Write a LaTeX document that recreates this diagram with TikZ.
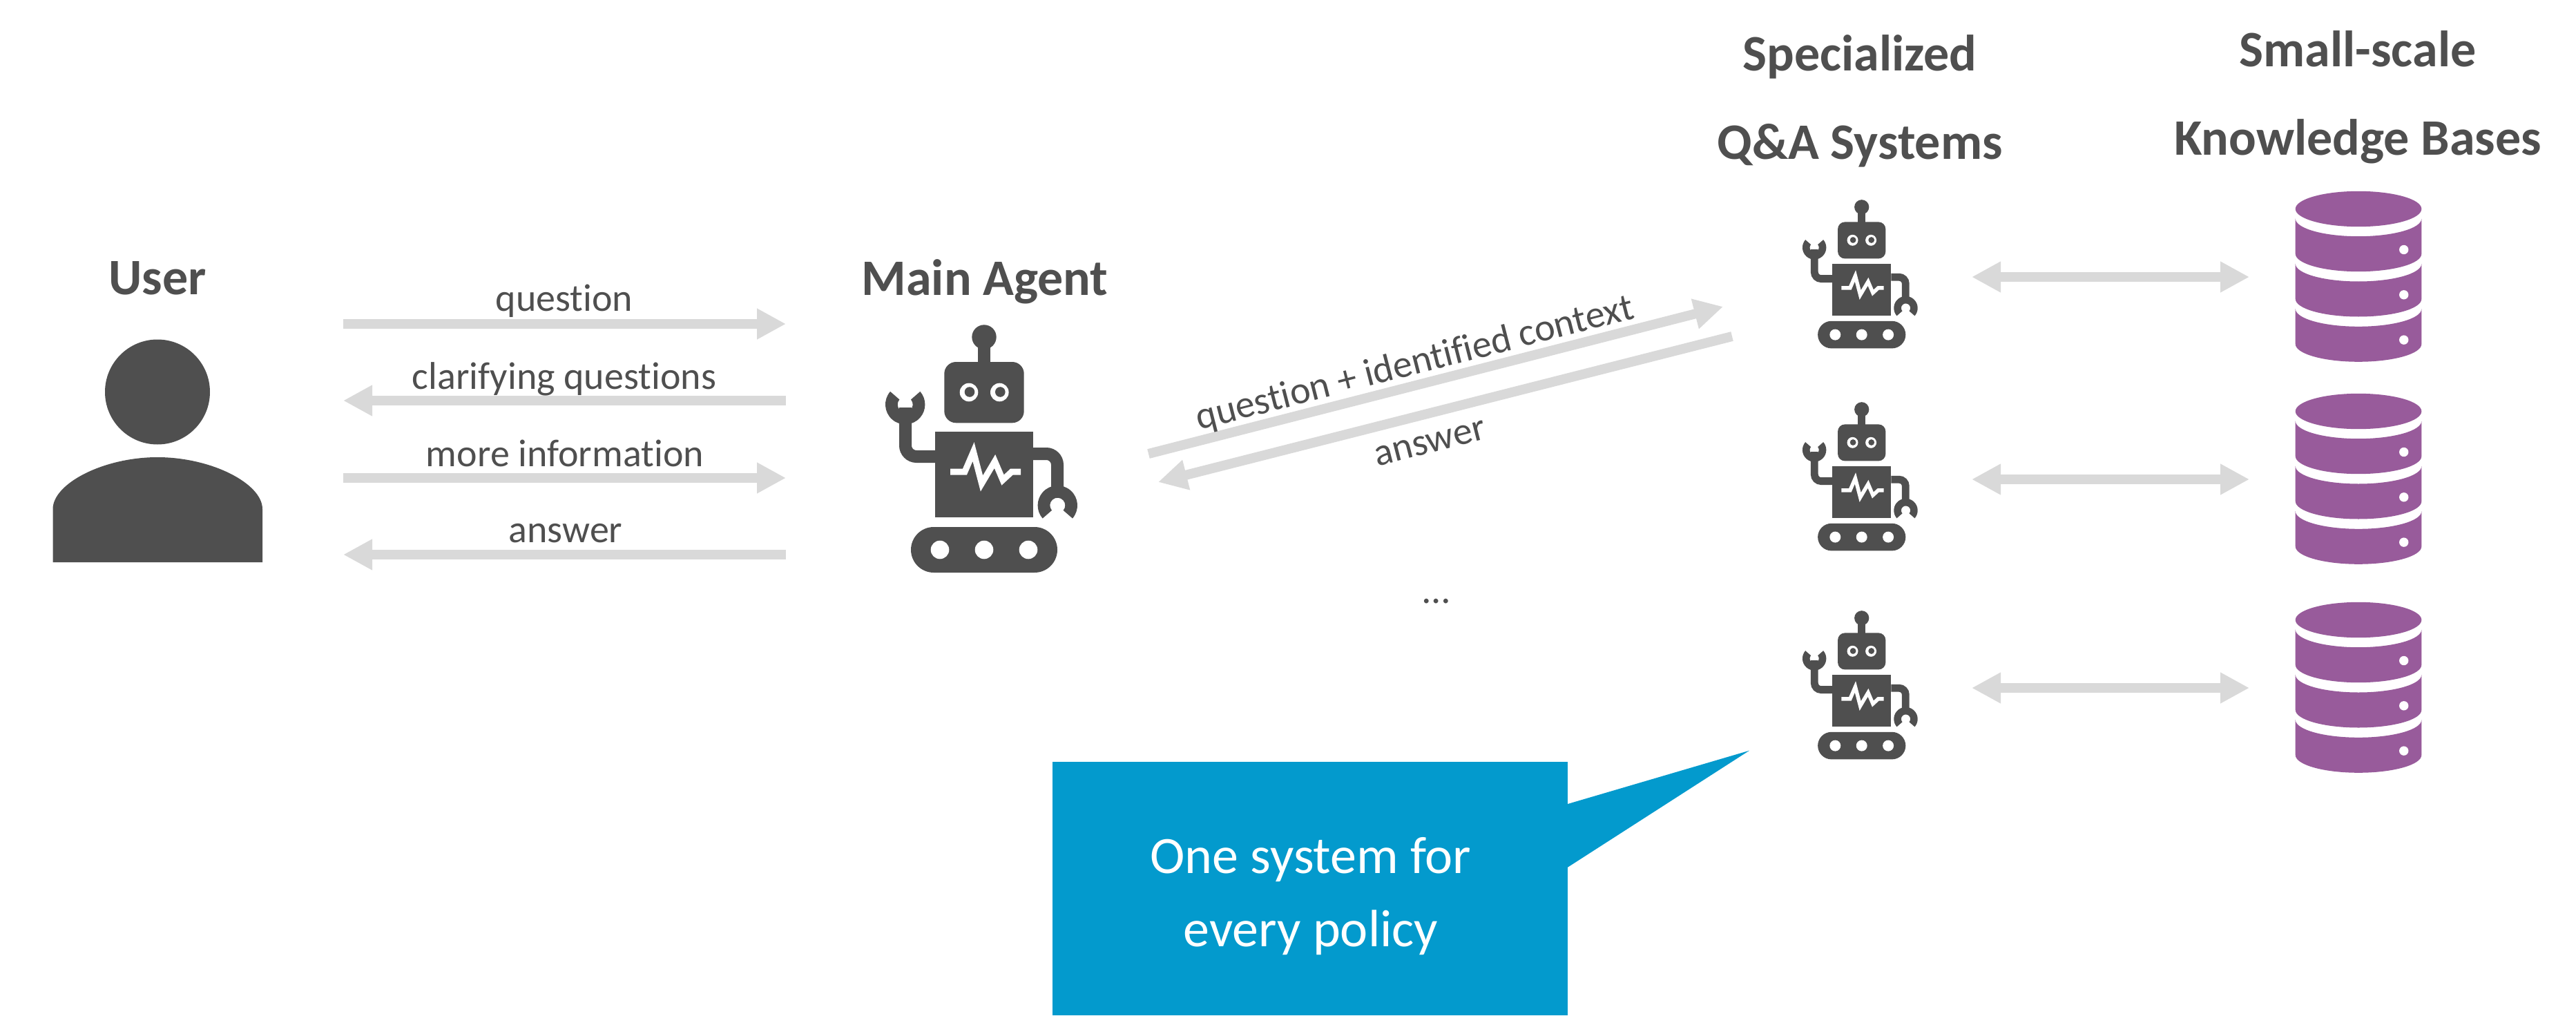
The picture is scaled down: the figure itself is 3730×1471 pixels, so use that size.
\documentclass[tikz,border=0pt]{standalone}
\usepackage{fontspec}
\usepackage{tikz}
\usetikzlibrary{arrows.meta}
\setmainfont{Carlito}[Ligatures=NoCommon]
\definecolor{ink}{HTML}{4F4F4F}
\definecolor{barcol}{HTML}{D9D9D9}
\definecolor{kbcol}{HTML}{985B9B}
\definecolor{notecol}{HTML}{039ACD}
\tikzstyle{bar}=[draw=barcol, line width=14pt, -{Triangle[width=42pt, length=42pt]}]
\tikzstyle{dbar}=[draw=barcol, line width=14pt, {Triangle[width=42pt, length=42pt]}-{Triangle[width=42pt, length=42pt]}]
\tikzstyle{msg}=[text=ink, inner sep=0pt, anchor=base, font=\fontsize{56}{60}\selectfont]
\tikzstyle{head}=[text=ink, inner sep=0pt, anchor=base, font=\fontsize{74}{80}\selectfont\bfseries]
\tikzset{
  pics/robot/.style={code={
    \fill[ink] (0,162) circle (17.7);
    \fill[ink] (-9,120) rectangle (9,162);
    \fill[ink, rounded corners=#1*17pt] (-57.7,37.7) rectangle (57.7,126);
    \fill[white] (-22,82) circle (13.3) (22.3,82) circle (13.3);
    \fill[ink] (-21,82.5) circle (7.3) (23.3,82.5) circle (7.3);
    \fill[ink] (-70.8,-99.3) rectangle (70.8,24.7);
    \draw[white, line width=#1*9pt, miter limit=10] (-49,-33) -- (-28,-33) -- (-15.5,-4) -- (-3.5,-50) -- (15.5,-18) -- (27,-45) -- (40,-33) -- (53,-33);
    \draw[ink, line width=#1*18pt, rounded corners=#1*16pt] (-71,-11) -- (-114,-11) -- (-114,60);
    \draw[ink, line width=#1*18pt, rounded corners=#1*16pt] (71,-7) -- (106,-7) -- (106,-70);
    \fill[ink] (-114.3,64.3) ++(139:28.7) arc (139:401:28.7) -- ++(221:17.7) arc (401:139:11) -- cycle;
    \fill[ink] (106.3,-81.7) ++(-41:28.7) arc (-41:221:28.7) -- ++(41:17.7) arc (221:-41:11) -- cycle;
    \fill[ink, rounded corners=#1*33pt] (-106,-179) rectangle (106,-113);
    \fill[white] (-64,-146) circle (13.3) (0,-146) circle (13.3) (64,-146) circle (13.3);
  }},
  pics/kbase/.style={code={
    \fill[kbcol] (0,98) ellipse (91.3 and 25.7);
    \foreach \ty in {0,-65.3,-130.6} {
      \fill[kbcol] (-91.3,84+\ty) -- (-91.3,33+\ty) arc (180:360:91.3 and 25.7) -- (91.3,84+\ty) arc (0:-180:91.3 and 25.7) -- cycle;
      \fill[white] (65.7,39+\ty) circle (6.7);
    }
  }}
}

\begin{document}
\begin{tikzpicture}[x=1pt, y=1pt]
  \useasboundingbox (0,0) rectangle (3730,-1471);
  % user
  \fill[ink] (228,-567.5) circle (76);
  \fill[ink] (76.5,-814) -- (76.5,-737) .. controls (76.5,-700) and (150,-662) .. (228,-662)
    .. controls (306,-662) and (380,-700) .. (380,-737) -- (380,-814) -- cycle;
  \node[head] (user) at (228,-426) {User};
  % main agent
  \pic[scale=1] at (1425,-650) {robot=1};
  \node[head] (agent) at (1426,-427) {Main Agent};
  \coordinate (q1a) at (497,-469); \coordinate (q1b) at (1138,-469);
  \coordinate (q2a) at (1138,-580); \coordinate (q2b) at (497,-580);
  \coordinate (q3a) at (497,-692); \coordinate (q3b) at (1138,-692);
  \coordinate (q4a) at (1138,-803); \coordinate (q4b) at (497,-803);
  \draw[bar] (q1a)--(q1b);
  \draw[bar] (q2a)--(q2b);
  \draw[bar] (q3a)--(q3b);
  \draw[bar] (q4a)--(q4b);
  \node[msg] (m1) at (817,-450) {question};
  \node[msg] (m2) at (817,-563) {clarifying questions};
  \node[msg] (m3) at (818,-675) {more information};
  \node[msg] (m4) at (819,-785) {answer};
  % agent to systems
  \coordinate (s1a) at (1663,-657); \coordinate (s1b) at (2495,-444);
  \coordinate (s2a) at (2508,-487); \coordinate (s2b) at (1677,-698);
  \draw[bar] (s1a)--(s1b);
  \draw[bar] (s2a)--(s2b);
  \node[msg, anchor=center, rotate=14.4] (m5) at (2049,-527) {question + identified context};
  \node[msg, anchor=center, rotate=14.4] (m6) at (2071,-642) {answer};
  % systems and bases
  \foreach \nn/\ry in {1/401, 2/694, 3/996} {
    \pic[scale=0.6] at (2695.7,-\ry+4) {robot=0.6};
    \pic at (3415,-\ry+0.5) {kbase};
    \coordinate (qa\nn) at (2855,-\ry);
    \coordinate (kb\nn) at (3257,-\ry);
    \draw[dbar] (qa\nn)--(kb\nn);
  }
  \node[msg] (dots) at (2080,-873.5) {\dots};
  \node[head] (h1) at (2693,-102.6) {Specialized};
  \node[head] (h2) at (2693,-230.7) {Q\&A Systems};
  \node[head] (h3) at (3414,-96.4) {Small-scale};
  \node[head] (h4) at (3414,-225) {Knowledge Bases};
  % note
  \fill[notecol] (1524,-1103) rectangle (2270,-1470);
  \fill[notecol] (2270,-1164) -- (2533,-1086.7) -- (2270,-1255.7) -- cycle;
  \node[msg, text=white, font=\fontsize{76}{80}\selectfont] (n1) at (1898,-1264) {One system for};
  \node[msg, text=white, font=\fontsize{76}{80}\selectfont] (n2) at (1898,-1370) {every policy};
\end{tikzpicture}
\end{document}
